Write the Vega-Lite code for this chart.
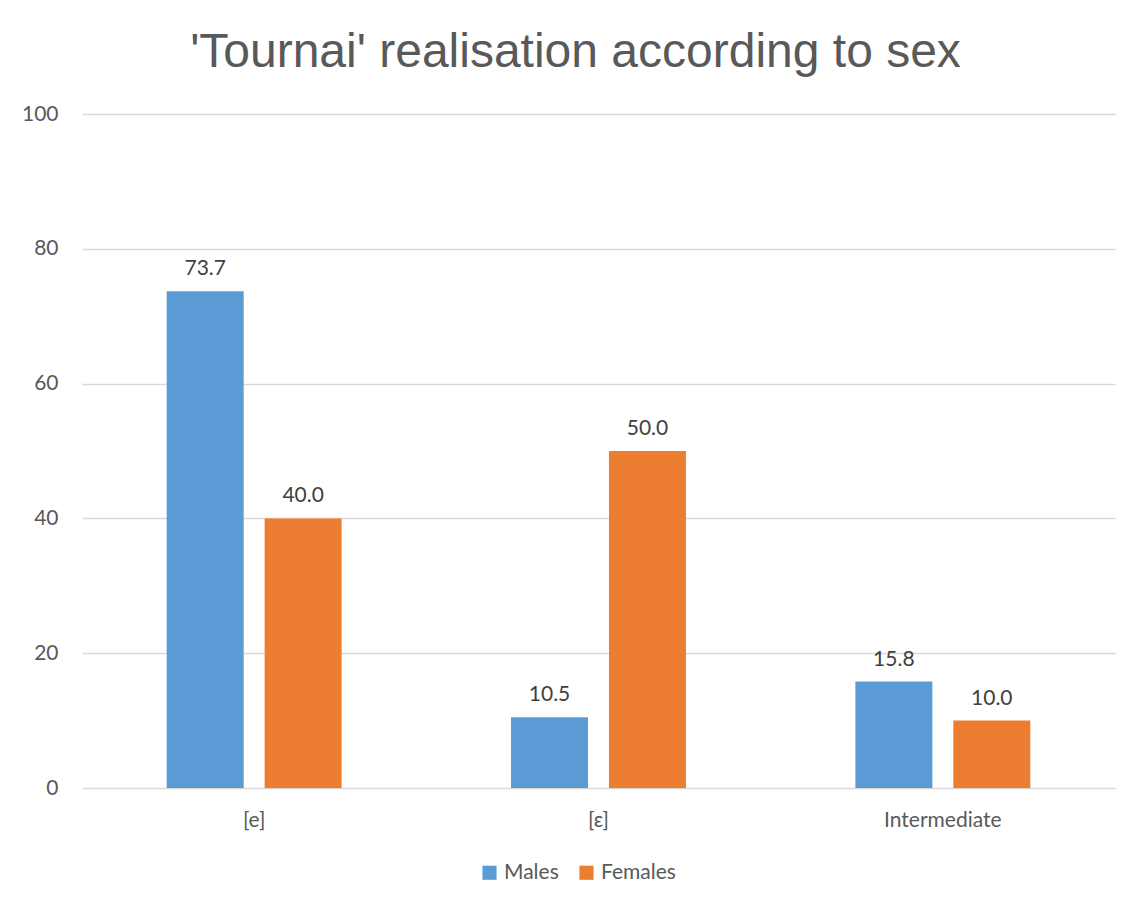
{
  "$schema": "https://vega.github.io/schema/vega-lite/v6.json",
  "width": 1033,
  "height": 674,
  "autosize": {"type": "none"},
  "padding": {"left": 82, "top": 114, "right": 25, "bottom": 119},
  "background": "white",
  "title": {
    "text": "'Tournai' realisation according to sex",
    "font": "Liberation Sans Narrow, Arial Narrow, Liberation Sans",
    "fontSize": 48,
    "fontWeight": "normal",
    "color": "#595959",
    "anchor": "middle",
    "baseline": "alphabetic",
    "offset": -12,
    "dx": -23
  },
  "data": {
    "values": [
      {"sound": "[e]", "sex": "Males", "pct": 73.7},
      {"sound": "[e]", "sex": "Females", "pct": 40.0},
      {"sound": "[ɛ]", "sex": "Males", "pct": 10.5},
      {"sound": "[ɛ]", "sex": "Females", "pct": 50.0},
      {"sound": "Intermediate", "sex": "Males", "pct": 15.8},
      {"sound": "Intermediate", "sex": "Females", "pct": 10.0}
    ]
  },
  "config": {
    "view": {"stroke": null},
    "font": "Lato"
  },
  "encoding": {
    "x": {
      "field": "sound",
      "type": "nominal",
      "sort": ["[e]", "[ɛ]", "Intermediate"],
      "scale": {"paddingInner": 0.492, "paddingOuter": 0.246},
      "axis": {
        "title": null,
        "labelAngle": 0,
        "labelFont": "Lato",
        "labelFontSize": 21,
        "labelColor": "#595959",
        "labelPadding": 21,
        "ticks": false,
        "domain": false
      }
    },
    "xOffset": {
      "field": "sex",
      "type": "nominal",
      "sort": ["Males", "Females"],
      "scale": {"paddingInner": 0.214, "paddingOuter": 0}
    },
    "y": {
      "field": "pct",
      "type": "quantitative",
      "scale": {"domain": [0, 100]},
      "axis": {
        "title": null,
        "values": [0, 20, 40, 60, 80, 100],
        "labelFont": "Lato",
        "labelFontSize": 21,
        "labelColor": "#595959",
        "labelPadding": 24,
        "ticks": false,
        "domain": false,
        "gridColor": "#d9d9d9",
        "gridWidth": 1.5
      }
    }
  },
  "layer": [
    {
      "mark": {"type": "bar"},
      "encoding": {
        "color": {
          "field": "sex",
          "type": "nominal",
          "sort": ["Males", "Females"],
          "scale": {"domain": ["Males", "Females"], "range": ["#5b9bd5", "#ed7d31"]},
          "legend": {
            "title": null,
            "orient": "none",
            "direction": "horizontal",
            "legendX": 397,
            "legendY": 748,
            "symbolType": "square",
            "symbolSize": 200,
            "symbolStrokeWidth": 0,
            "labelFont": "Lato",
            "labelFontSize": 21,
            "labelColor": "#595959",
            "labelOffset": 4,
            "columnPadding": 17
          }
        }
      }
    },
    {
      "mark": {
        "type": "text",
        "baseline": "bottom",
        "dy": -12,
        "font": "Lato",
        "fontSize": 21,
        "color": "#404040"
      },
      "encoding": {
        "text": {"field": "pct", "type": "quantitative", "format": ".1f"}
      }
    }
  ]
}
